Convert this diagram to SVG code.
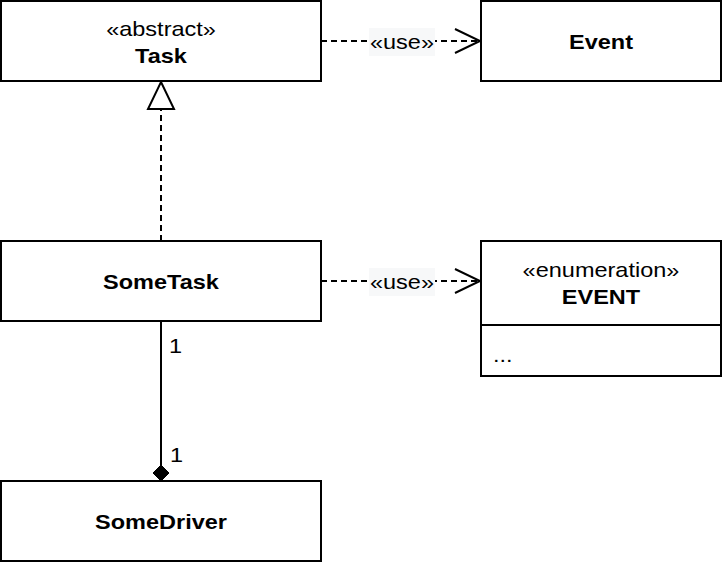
<svg xmlns="http://www.w3.org/2000/svg" width="724" height="564" viewBox="0 0 724 564">
<style>
.box{fill:#fff;stroke:#000;stroke-width:2}
.t{font-family:"Liberation Sans",Arial,sans-serif;font-size:21px;fill:#000;text-anchor:middle}
.b{font-weight:bold}
.ln{fill:none;stroke:#000;stroke-width:2}
.dash{stroke-dasharray:6 4}
.lblbg{fill:#f7f8f9;stroke:none}
</style>
<rect width="724" height="564" fill="#fff"/>
<g id="connectors">
  <g id="gen-sometask-task">
    <line class="ln dash" x1="161" y1="241" x2="161" y2="109"/>
    <polygon points="161,82 174,109 148,109" fill="#fff" stroke="#000" stroke-width="2"/>
  </g>
  <g id="use-task-event">
    <line class="ln dash" x1="321" y1="41" x2="480" y2="41"/>
    <polyline class="ln" points="455,29 480,41 455,53"/>
    <rect class="lblbg" x="369" y="28" width="66" height="28"/>
    <text class="t" transform="translate(402,49) scale(1.12,1)">«use»</text>
  </g>
  <g id="use-sometask-event">
    <line class="ln dash" x1="321" y1="281" x2="480" y2="281"/>
    <polyline class="ln" points="455,269 480,281 455,293"/>
    <rect class="lblbg" x="369" y="268" width="66" height="28"/>
    <text class="t" transform="translate(402,289) scale(1.12,1)">«use»</text>
  </g>
  <g id="comp-sometask-somedriver">
    <line class="ln" x1="161" y1="321" x2="161" y2="466"/>
    <polygon points="161,465 169,473 161,481 153,473" fill="#000" stroke="#000" stroke-width="1"/>
    <text class="t" transform="translate(169,353) scale(1.12,1)" style="text-anchor:start">1</text>
    <text class="t" transform="translate(170,462) scale(1.12,1)" style="text-anchor:start">1</text>
  </g>
</g>
<g id="Task">
  <rect class="box" x="1" y="1" width="320" height="80"/>
  <text class="t" transform="translate(161,36) scale(1.12,1)">«abstract»</text>
  <text class="t b" transform="translate(161,63) scale(1.12,1)">Task</text>
</g>
<g id="Event">
  <rect class="box" x="481" y="1" width="240" height="80"/>
  <text class="t b" transform="translate(601,49) scale(1.12,1)">Event</text>
</g>
<g id="SomeTask">
  <rect class="box" x="1" y="241" width="320" height="80"/>
  <text class="t b" transform="translate(161,289) scale(1.12,1)">SomeTask</text>
</g>
<g id="EVENT">
  <rect class="box" x="481" y="241" width="240" height="135"/>
  <line class="ln" x1="481" y1="325" x2="721" y2="325"/>
  <text class="t" transform="translate(601,276.5) scale(1.12,1)">«enumeration»</text>
  <text class="t b" transform="translate(601,304) scale(1.12,1)">EVENT</text>
  <text class="t" transform="translate(493,362) scale(1.12,1)" style="text-anchor:start">...</text>
</g>
<g id="SomeDriver">
  <rect class="box" x="1" y="481" width="320" height="80"/>
  <text class="t b" transform="translate(161,529) scale(1.12,1)">SomeDriver</text>
</g>
</svg>
